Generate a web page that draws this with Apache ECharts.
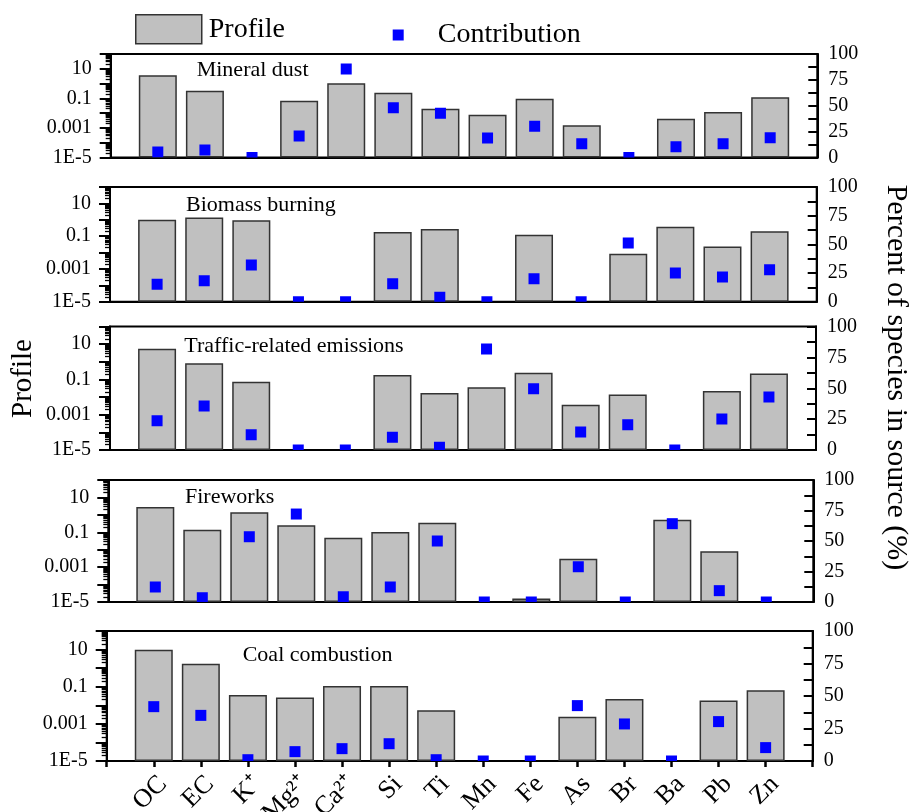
<!DOCTYPE html>
<html>
<head>
<meta charset="utf-8">
<script src="https://cdn.jsdelivr.net/npm/echarts@6/dist/echarts.min.js"></script>
<style>
  html, body { margin: 0; padding: 0; background: #ffffff; }
  #chart { width: 909px; height: 812px; }
</style>
</head>
<body>
<div id="chart"></div>
<script>
// Species along the x axis
const species = ['OC', 'EC', 'K⁺', 'Mg²⁺', 'Ca²⁺', 'Si', 'Ti', 'Mn', 'Fe', 'As', 'Br', 'Ba', 'Pb', 'Zn'];

// Source names (one panel each)
const sources = ['Mineral dust', 'Biomass burning', 'Traffic-related emissions', 'Fireworks', 'Coal combustion'];

// Source profiles (log scale); null = species absent from the profile
const profileMineralDust = [3.6, 0.33, null, 0.069, 1.04, 0.24, 0.02, 0.0078, 0.095, 0.0015, null, 0.0042, 0.012, 0.12];
const profileBiomass     = [1.0, 1.4, 0.93, null, null, 0.18, 0.27, null, 0.12, null, 0.0085, 0.38, 0.023, 0.2];
const profileTraffic     = [5.5, 0.82, 0.074, null, null, 0.18, 0.017, 0.036, 0.24, 0.0037, 0.014, null, 0.022, 0.22];
const profileFireworks   = [2.8, 0.14, 1.4, 0.25, 0.049, 0.105, 0.35, null, 0.000016, 0.003, null, 0.52, 0.0081, null];
const profileCoal        = [9.8, 1.7, 0.036, 0.026, 0.11, 0.11, 0.0054, null, null, 0.0024, 0.022, null, 0.018, 0.065];

// Contribution of each source to each species (% of species in source)
const contribMineralDust = [5.3, 7.2, 0, 20.8, 85.5, 48.1, 42.7, 18.8, 30.1, 13.3, 0, 10.4, 13.3, 19.1];
const contribBiomass     = [15.2, 18.3, 32, 0, 0, 15.7, 3.8, 0, 20, 0, 51.2, 25, 21.5, 27.9];
const contribTraffic     = [23.7, 35.6, 12.4, 0, 0, 10.3, 2.2, 81.8, 49.6, 14.6, 20.5, 0, 25.1, 42.9];
const contribFireworks   = [12.3, 3.5, 53.5, 72.1, 4.3, 12.3, 50, 0, 0, 28.9, 0, 64.2, 9.3, 0];
const contribCoal        = [41.8, 35.1, 1, 7.2, 9.5, 13.3, 1, 0, 0, 42.6, 28.5, 0, 30.3, 10.3];

const profiles = [profileMineralDust, profileBiomass, profileTraffic, profileFireworks, profileCoal];
const contributions = [contribMineralDust, contribBiomass, contribTraffic, contribFireworks, contribCoal];

// Left (log) axis: decades 1E-5 .. 100, labelled on odd exponents
const logMinExp = -5;
const logMaxExp = 2;
const leftTickExponents = [-5, -3, -1, 1];
const leftTickLabels = ['1E-5', '0.001', '0.1', '10'];

// Right axis ticks (percent)
const rightTicks = [0, 25, 50, 75, 100];

// Panel frames in pixels: [left, rightEdge, top, bottom]
const panelFrames = [
  [110.7, 817.3, 54, 157.5],
  [110, 816.7, 187, 301.7],
  [110, 816, 326.5, 450],
  [108.3, 813.3, 480, 602],
  [106.7, 812.7, 631, 761]
];
// Panel caption anchors: [left, top]
const captionPos = [[196.7, 59.5], [186, 194.5], [184.3, 335], [185, 486], [242.7, 644.5]];

const FONT = '"Liberation Serif", "Times New Roman", serif';

// Log10 transform so bars rise from the 1E-5 floor of the axis
const toLogUnits = v => Math.log10(v) - logMinExp;
const logSpan = logMaxExp - logMinExp;

const minorTickPos = [];
for (let e = logMinExp; e < logMaxExp; e++) {
  for (let m = 2; m <= 9; m++) minorTickPos.push(Math.log10(m) + e - logMinExp);
}

const grids = [], xAxes = [], yAxes = [], series = [], titles = [];

panelFrames.forEach((f, p) => {
  const [l, r, t, b] = f;
  grids.push({
    left: l, width: r - l, top: t, height: b - t,
    outerBoundsMode: 'none', containLabel: false,
    show: true, borderColor: '#000', borderWidth: 2, backgroundColor: 'transparent'
  });
  const isLast = p === panelFrames.length - 1;
  xAxes.push({
    gridIndex: p, type: 'value', min: 0, max: species.length + 1, interval: 1,
    position: 'bottom',
    axisLine: { show: true, lineStyle: { color: '#000', width: 2 } },
    axisTick: { show: isLast, inside: false, length: 6, lineStyle: { color: '#000', width: 2.5 } },
    axisLabel: {
      show: isLast, rotate: 45, margin: 10, verticalAlign: 'top',
      fontFamily: FONT, fontSize: 26, color: '#000',
      formatter: v => species[v - 1] || ''
    },
    splitLine: { show: false }
  });
  // main left axis: decade ticks + labels
  yAxes.push({
    gridIndex: p, type: 'value', position: 'left', min: 0, max: logSpan, interval: 1,
    axisLine: { show: true, lineStyle: { color: '#000', width: 2 } },
    axisTick: { show: true, inside: false, length: 11, lineStyle: { color: '#000', width: 2 } },
    axisLabel: {
      margin: 19, fontFamily: FONT, fontSize: 20, color: '#000',
      formatter: v => {
        const k = leftTickExponents.indexOf(Math.round(v) + logMinExp);
        return k >= 0 ? leftTickLabels[k] : '';
      }
    },
    splitLine: { show: false }
  });
  // minor log ticks (2..9 within each decade)
  yAxes.push({
    gridIndex: p, type: 'value', position: 'left', min: 0, max: logSpan,
    axisLine: { show: false },
    axisTick: { show: true, inside: false, length: 5, customValues: minorTickPos, lineStyle: { color: '#000', width: 1.3 } },
    axisLabel: { show: false },
    splitLine: { show: false }
  });
  // right axis: percent of species in source
  yAxes.push({
    gridIndex: p, type: 'value', position: 'right', min: 0, max: 100, interval: 25,
    axisLine: { show: true, lineStyle: { color: '#000', width: 2 } },
    axisTick: { show: true, inside: true, length: 9, lineStyle: { color: '#000', width: 2 } },
    minorTick: { show: true, splitNumber: 2, length: 9, lineStyle: { color: '#000', width: 2 } },
    axisLabel: {
      margin: 11, fontFamily: FONT, fontSize: 20, color: '#000',
      formatter: v => (rightTicks.indexOf(v) >= 0 ? String(v) : '')
    },
    splitLine: { show: false }
  });

  series.push({
    name: 'Profile', type: 'bar', z: 2,
    xAxisIndex: p, yAxisIndex: p * 3,
    barWidth: 38,
    itemStyle: { color: '#c0c0c0', borderColor: '#333', borderWidth: 1.5 },
    data: profiles[p].map((v, i) => (v == null ? null : [i + 1, toLogUnits(v)])).filter(d => d)
  });
  series.push({
    name: 'Contribution', type: 'custom', z: 5,
    xAxisIndex: p, yAxisIndex: p * 3 + 2,
    clip: true,
    itemStyle: { color: '#0000ff' },
    encode: { x: 0, y: 1 },
    data: contributions[p].map((v, i) => [i + 1, v]),
    renderItem: (params, api) => {
      const pt = api.coord([api.value(0), api.value(1)]);
      const s = 11;
      return {
        type: 'rect',
        shape: { x: pt[0] - s / 2, y: pt[1] - s / 2, width: s, height: s },
        style: { fill: '#0000ff' }
      };
    }
  });

  titles.push({
    text: sources[p], left: captionPos[p][0], top: captionPos[p][1], padding: 0,
    textStyle: { fontFamily: FONT, fontSize: 22, fontWeight: 'normal', color: '#000' }
  });
});

const chart = echarts.init(document.getElementById('chart'), null, { renderer: 'canvas' });
chart.setOption({
  animation: false,
  backgroundColor: '#ffffff',
  title: titles,
  legend: [
    {
      left: 135, top: 14, padding: 0, selectedMode: false,
      itemWidth: 66, itemHeight: 29,
      data: [{ name: 'Profile', icon: 'rect', itemStyle: { color: '#c0c0c0', borderColor: '#333', borderWidth: 1.5 } }],
      textStyle: { fontFamily: FONT, fontSize: 28, color: '#000', padding: [0, 0, 0, 2] }
    },
    {
      left: 392.7, top: 21, padding: 0, selectedMode: false,
      itemWidth: 11, itemHeight: 11,
      data: [{ name: 'Contribution', icon: 'rect', itemStyle: { color: '#0000ff', borderWidth: 0 } }],
      textStyle: { fontFamily: FONT, fontSize: 28, color: '#000', padding: [0, 0, 0, 29] }
    }
  ],
  grid: grids,
  xAxis: xAxes,
  yAxis: yAxes,
  series: series,
  graphic: [
    {
      type: 'text', x: 23, y: 378.5, rotation: Math.PI / 2,
      style: { text: 'Profile', font: '29px ' + FONT, fill: '#000', align: 'center', verticalAlign: 'middle' }
    },
    {
      type: 'text', x: 896, y: 377.5, rotation: -Math.PI / 2,
      style: { text: 'Percent of species in source (%)', font: '30px ' + FONT, fill: '#000', align: 'center', verticalAlign: 'middle' }
    }
  ]
});
</script>
</body>
</html>
